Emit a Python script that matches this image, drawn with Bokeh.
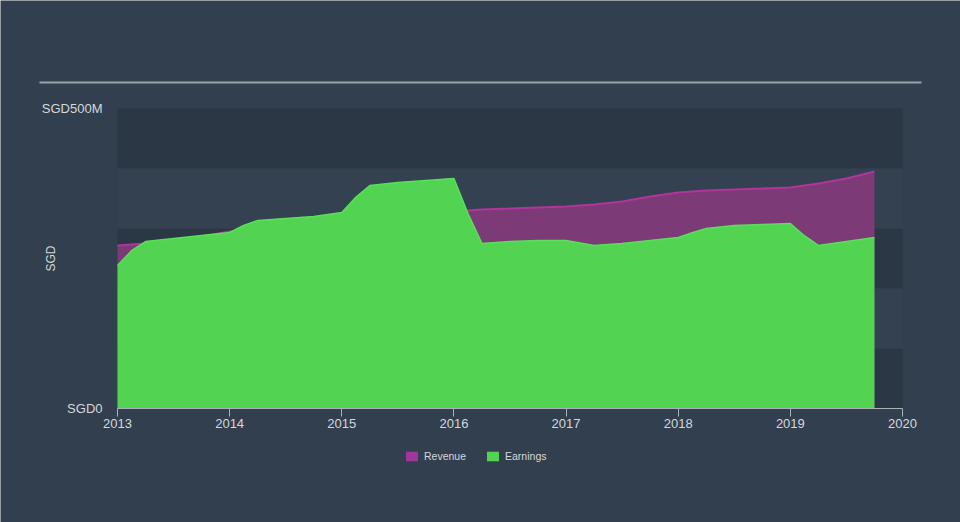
from bokeh.plotting import figure
from bokeh.models import Range1d, FixedTicker, Legend, LegendItem, BoxAnnotation
from bokeh.embed import file_html
from bokeh.resources import INLINE

# ---- data (SGD millions) ----
rev_years = [2013.0, 2013.25, 2013.5, 2013.75, 2014.0, 2014.25, 2014.5, 2014.75,
             2015.0, 2015.25, 2015.5, 2015.75, 2016.0, 2016.25, 2016.5, 2016.75,
             2017.0, 2017.25, 2017.5, 2017.75, 2018.0, 2018.25, 2018.5, 2018.75,
             2019.0, 2019.25, 2019.5, 2019.75]
revenue = [271.7, 275.0, 280.0, 286.7, 295.0, 300.0, 305.0, 310.0,
           315.0, 318.3, 321.7, 325.0, 328.3, 331.7, 333.3, 335.0,
           336.7, 340.0, 345.0, 353.3, 360.0, 363.3, 365.0, 366.7,
           368.3, 375.0, 383.3, 395.0]
earn_years = [2013.0, 2013.125, 2013.25, 2013.5, 2013.75, 2014.0, 2014.125, 2014.25,
              2014.5, 2014.75, 2015.0, 2015.125, 2015.25, 2015.5, 2015.75, 2016.0,
              2016.125, 2016.25, 2016.5, 2016.75, 2017.0, 2017.25, 2017.5, 2017.75,
              2018.0, 2018.125, 2018.25, 2018.5, 2018.75, 2019.0, 2019.125, 2019.25,
              2019.5, 2019.75]
earnings = [238.3, 263.0, 278.3, 283.3, 288.3, 293.3, 305.0, 313.3,
            316.7, 320.0, 326.7, 352.0, 371.7, 376.7, 380.0, 383.3,
            325.0, 275.0, 278.3, 280.0, 280.0, 271.7, 275.0, 280.0,
            285.0, 293.0, 300.0, 305.0, 306.7, 308.3, 288.0, 271.7,
            278.3, 285.0]
x_ticks = [2013, 2014, 2015, 2016, 2017, 2018, 2019, 2020]
y_ticks = [0, 500]
y_tick_labels = {0: "SGD0", 500: "SGD500M"}
band_edges = [0, 100, 200, 300, 400, 500]

BG = "#323f4e"
TXT = "#d4d8dc"
FONT = "Liberation Sans"

# frame covers the whole canvas; ranges chosen so the plot area sits at
# x 117..902 px (2013..2020) and y 408..108 px (0..500M)
PX_PER_YEAR = (902 - 117) / 7.0
PX_PER_M = 300 / 500.0
xr = Range1d(2013 - 117 / PX_PER_YEAR, 2020 + 58 / PX_PER_YEAR)
yr = Range1d(-114 / PX_PER_M, 408 / PX_PER_M)

p = figure(width=960, height=522, x_range=xr, y_range=yr,
           toolbar_location=None, output_backend="svg",
           min_border=0, min_border_left=0, min_border_right=0,
           min_border_top=0, min_border_bottom=0,
           background_fill_color=BG, border_fill_color=BG)
p.outline_line_color = None
p.grid.visible = False

# plot-area bands
p.quad(left=x_ticks[0], right=x_ticks[-1],
       bottom=band_edges[0:-1:2], top=band_edges[1::2], fill_color="#2c3745", line_color=None)
p.quad(left=x_ticks[0], right=x_ticks[-1],
       bottom=band_edges[1:-1:2], top=band_edges[2::2], fill_color="#334151", line_color=None)

p.varea(x=rev_years, y1=0, y2=revenue, fill_color="#7c3a77", fill_alpha=1.0)
p.line(x=rev_years, y=revenue, line_color="#b0359c", line_width=2)
earn_area = p.varea(x=earn_years, y1=0, y2=earnings, fill_color="#52d452", fill_alpha=1.0)
p.line(x=earn_years, y=earnings, line_color="#58e058", line_width=1.5)

# legend swatch for revenue (brighter than the area fill, as in the reference);
# a single zero-height point, so it draws nothing in the plot itself
rev_swatch = p.varea(x=[rev_years[0]], y1=[0], y2=[0], fill_color="#a1379b")

# top rule above the chart
p.add_layout(BoxAnnotation(left=39, right=921, top=81, bottom=83,
                           left_units="canvas", right_units="canvas",
                           top_units="canvas", bottom_units="canvas",
                           fill_color="#9aa2aa", fill_alpha=1.0, line_color=None))

# x axis, drawn at y = 0
xa = p.xaxis[0]
xa.fixed_location = 0
xa.bounds = (x_ticks[0], x_ticks[-1])
xa.ticker = FixedTicker(ticks=x_ticks)
xa.axis_line_color = "#a9b1b9"
xa.major_tick_line_color = "#a9b1b9"
xa.major_tick_in = 0
xa.major_tick_out = 8
xa.minor_tick_line_color = None
xa.major_label_text_color = TXT
xa.major_label_text_font = FONT
xa.major_label_text_font_size = "13px"
xa.major_label_standoff = 2

# y axis, drawn at x = 2013
ya = p.yaxis[0]
ya.fixed_location = x_ticks[0]
ya.bounds = (y_ticks[0], y_ticks[-1])
ya.ticker = FixedTicker(ticks=y_ticks)
ya.major_label_overrides = y_tick_labels
ya.axis_line_color = None
ya.major_tick_line_color = None
ya.minor_tick_line_color = None
ya.major_label_text_color = TXT
ya.major_label_text_font = FONT
ya.major_label_text_font_size = "13px"
ya.major_label_standoff = 9
ya.axis_label = "SGD"
ya.axis_label_text_color = TXT
ya.axis_label_text_font = FONT
ya.axis_label_text_font_style = "normal"
ya.axis_label_text_font_size = "12px"
ya.axis_label_standoff = -19

legend = Legend(items=[LegendItem(label="Revenue", renderers=[rev_swatch]),
                       LegendItem(label="Earnings", renderers=[earn_area])],
                orientation="horizontal", location=(404, 60),
                background_fill_alpha=0, border_line_color=None,
                label_text_color=TXT, label_text_font=FONT, label_text_font_size="10.5px",
                glyph_width=15, glyph_height=12, label_height=12,
                label_standoff=5, spacing=19, padding=0, margin=0)
p.add_layout(legend, "center")

open("out.html", "w").write(file_html(p, INLINE))
